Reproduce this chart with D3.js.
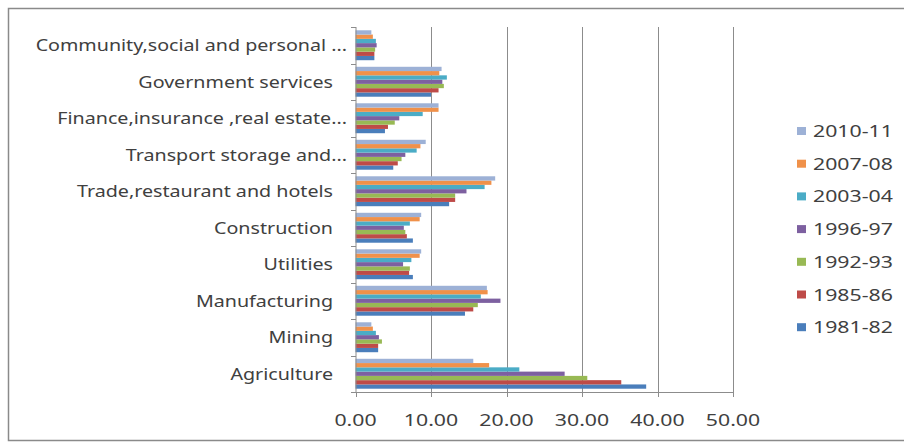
<!DOCTYPE html>
<html>
<head>
<meta charset="utf-8">
<script src="https://cdn.jsdelivr.net/npm/d3@7"></script>
<style>
  body { margin: 0; background: #fff; overflow: hidden; }
  text { font-family: "Noto Sans", sans-serif; fill: #404040; }
</style>
</head>
<body>
<div id="chart"></div>
<script>
var width = 904;
var height = 446;

// categories, bottom to top as drawn
var sectors = [
  "Agriculture",
  "Mining",
  "Manufacturing",
  "Utilities",
  "Construction",
  "Trade,restaurant and hotels",
  "Transport storage and...",
  "Finance,insurance ,real estate...",
  "Government services",
  "Community,social and personal ..."
];

// series, in plotting order (first = bottom bar of each group)
var years = ["1981-82", "1985-86", "1992-93", "1996-97", "2003-04", "2007-08", "2010-11"];
var yearColors = ["#4a7ebb", "#be4b48", "#98b954", "#7d60a0", "#4bacc6", "#f0914a", "#9db1d6"];

// share of GDP (%), one array per year, same order as sectors
var v1981 = [38.5, 3.0, 14.5, 7.6, 7.6, 12.4, 5.0, 3.9, 10.0, 2.5];
var v1985 = [35.2, 3.0, 15.6, 7.1, 6.8, 13.2, 5.6, 4.3, 11.0, 2.5];
var v1992 = [30.7, 3.5, 16.2, 7.2, 6.6, 13.2, 6.1, 5.2, 11.7, 2.6];
var v1996 = [27.7, 3.1, 19.2, 6.3, 6.4, 14.7, 6.6, 5.8, 11.5, 2.8];
var v2003 = [21.7, 2.7, 16.6, 7.4, 7.2, 17.1, 8.1, 8.9, 12.1, 2.7];
var v2007 = [17.7, 2.3, 17.5, 8.5, 8.5, 18.0, 8.6, 11.0, 11.1, 2.3];
var v2010 = [15.6, 2.1, 17.4, 8.7, 8.7, 18.5, 9.3, 11.0, 11.4, 2.1];
var seriesValues = [v1981, v1985, v1992, v1996, v2003, v2007, v2010];

var xTicks = [0, 10, 20, 30, 40, 50];

var svg = d3
  .select("#chart")
  .append("svg")
  .attr("width", width)
  .attr("height", height);

// outer chart border (right side is cut off in the picture)
svg.append("rect")
  .attr("x", 8.5)
  .attr("y", 8.5)
  .attr("width", 905)
  .attr("height", 432)
  .attr("fill", "none")
  .attr("stroke", "#8a8a8a")
  .attr("stroke-width", 1.5);

var plot = { left: 355.5, right: 733, top: 27, bottom: 392 };

var x = d3.scaleLinear().domain([0, 50]).range([plot.left, plot.right]);

var y = d3.scaleBand()
  .domain(sectors)
  .range([plot.bottom, plot.top])
  .paddingInner(0.18)
  .paddingOuter(0.09);

var yInner = d3.scaleBand()
  .domain(years)
  .range([y.bandwidth(), 0]);

// vertical gridlines
svg.append("g")
  .selectAll("line")
  .data(xTicks.slice(1))
  .enter()
  .append("line")
  .attr("x1", function(d) { return Math.round(x(d)) + 0.5; })
  .attr("x2", function(d) { return Math.round(x(d)) + 0.5; })
  .attr("y1", plot.top)
  .attr("y2", plot.bottom)
  .attr("stroke", "#8c8c8c")
  .attr("stroke-width", 1);

// bars
var groups = svg.append("g")
  .selectAll("g")
  .data(years)
  .enter()
  .append("g")
  .attr("fill", function(d, i) { return yearColors[i]; });

groups.selectAll("rect")
  .data(function(yr, i) {
    return sectors.map(function(s, j) {
      return { sector: s, year: yr, value: seriesValues[i][j] };
    });
  })
  .enter()
  .append("rect")
  .attr("x", x(0))
  .attr("y", function(d) { return y(d.sector) + yInner(d.year); })
  .attr("width", function(d) { return x(d.value) - x(0); })
  .attr("height", yInner.bandwidth());

// category axis line + ticks at band boundaries
var step = y.step();
var catTicks = d3.range(sectors.length + 1).map(function(i) { return plot.bottom - i * step; });

svg.append("line")
  .attr("x1", 356).attr("x2", 356)
  .attr("y1", plot.top).attr("y2", plot.bottom)
  .attr("stroke", "#8c8c8c");

svg.append("g")
  .selectAll("line")
  .data(catTicks)
  .enter()
  .append("line")
  .attr("x1", 351).attr("x2", 356)
  .attr("y1", function(d) { return Math.round(d) + 0.5; })
  .attr("y2", function(d) { return Math.round(d) + 0.5; })
  .attr("stroke", "#8c8c8c");

// value axis
svg.append("line")
  .attr("x1", plot.left).attr("x2", plot.right)
  .attr("y1", plot.bottom + 0.5).attr("y2", plot.bottom + 0.5)
  .attr("stroke", "#8c8c8c");

svg.append("g")
  .selectAll("line")
  .data(xTicks)
  .enter()
  .append("line")
  .attr("x1", function(d) { return Math.round(x(d)) + 0.5; })
  .attr("x2", function(d) { return Math.round(x(d)) + 0.5; })
  .attr("y1", plot.bottom)
  .attr("y2", plot.bottom + 5)
  .attr("stroke", "#8c8c8c");

// the picture's text is stretched sideways
var sxNum = 1.33;
var sxCat = 1.23;

svg.append("g")
  .selectAll("text")
  .data(xTicks)
  .enter()
  .append("text")
  .attr("transform", function(d) { return "translate(" + x(d) + ",426) scale(" + sxNum + ",1)"; })
  .attr("text-anchor", "middle")
  .attr("font-size", 16)
  .text(function(d) { return d3.format(".2f")(d); });

svg.append("g")
  .selectAll("text")
  .data(sectors)
  .enter()
  .append("text")
  .attr("transform", function(d) {
    var xe = d.slice(-3) === "..." ? 347 : 333;
    return "translate(" + xe + "," + (y(d) + y.bandwidth() / 2 + 6) + ") scale(" + sxCat + ",1)";
  })
  .attr("text-anchor", "end")
  .attr("font-size", 16)
  .text(function(d) { return d; });

// legend, newest first
var legendYears = years.slice().reverse();
var legend = svg.append("g")
  .selectAll("g")
  .data(legendYears)
  .enter()
  .append("g")
  .attr("transform", function(d, i) { return "translate(797," + (131 + i * 32.7) + ")"; });

legend.append("rect")
  .attr("x", 0)
  .attr("y", -4)
  .attr("width", 9)
  .attr("height", 8)
  .attr("fill", function(d) { return yearColors[years.indexOf(d)]; });

legend.append("text")
  .attr("transform", "translate(16,6) scale(" + sxNum + ",1)")
  .attr("font-size", 16)
  .text(function(d) { return d; });
</script>
</body>
</html>
